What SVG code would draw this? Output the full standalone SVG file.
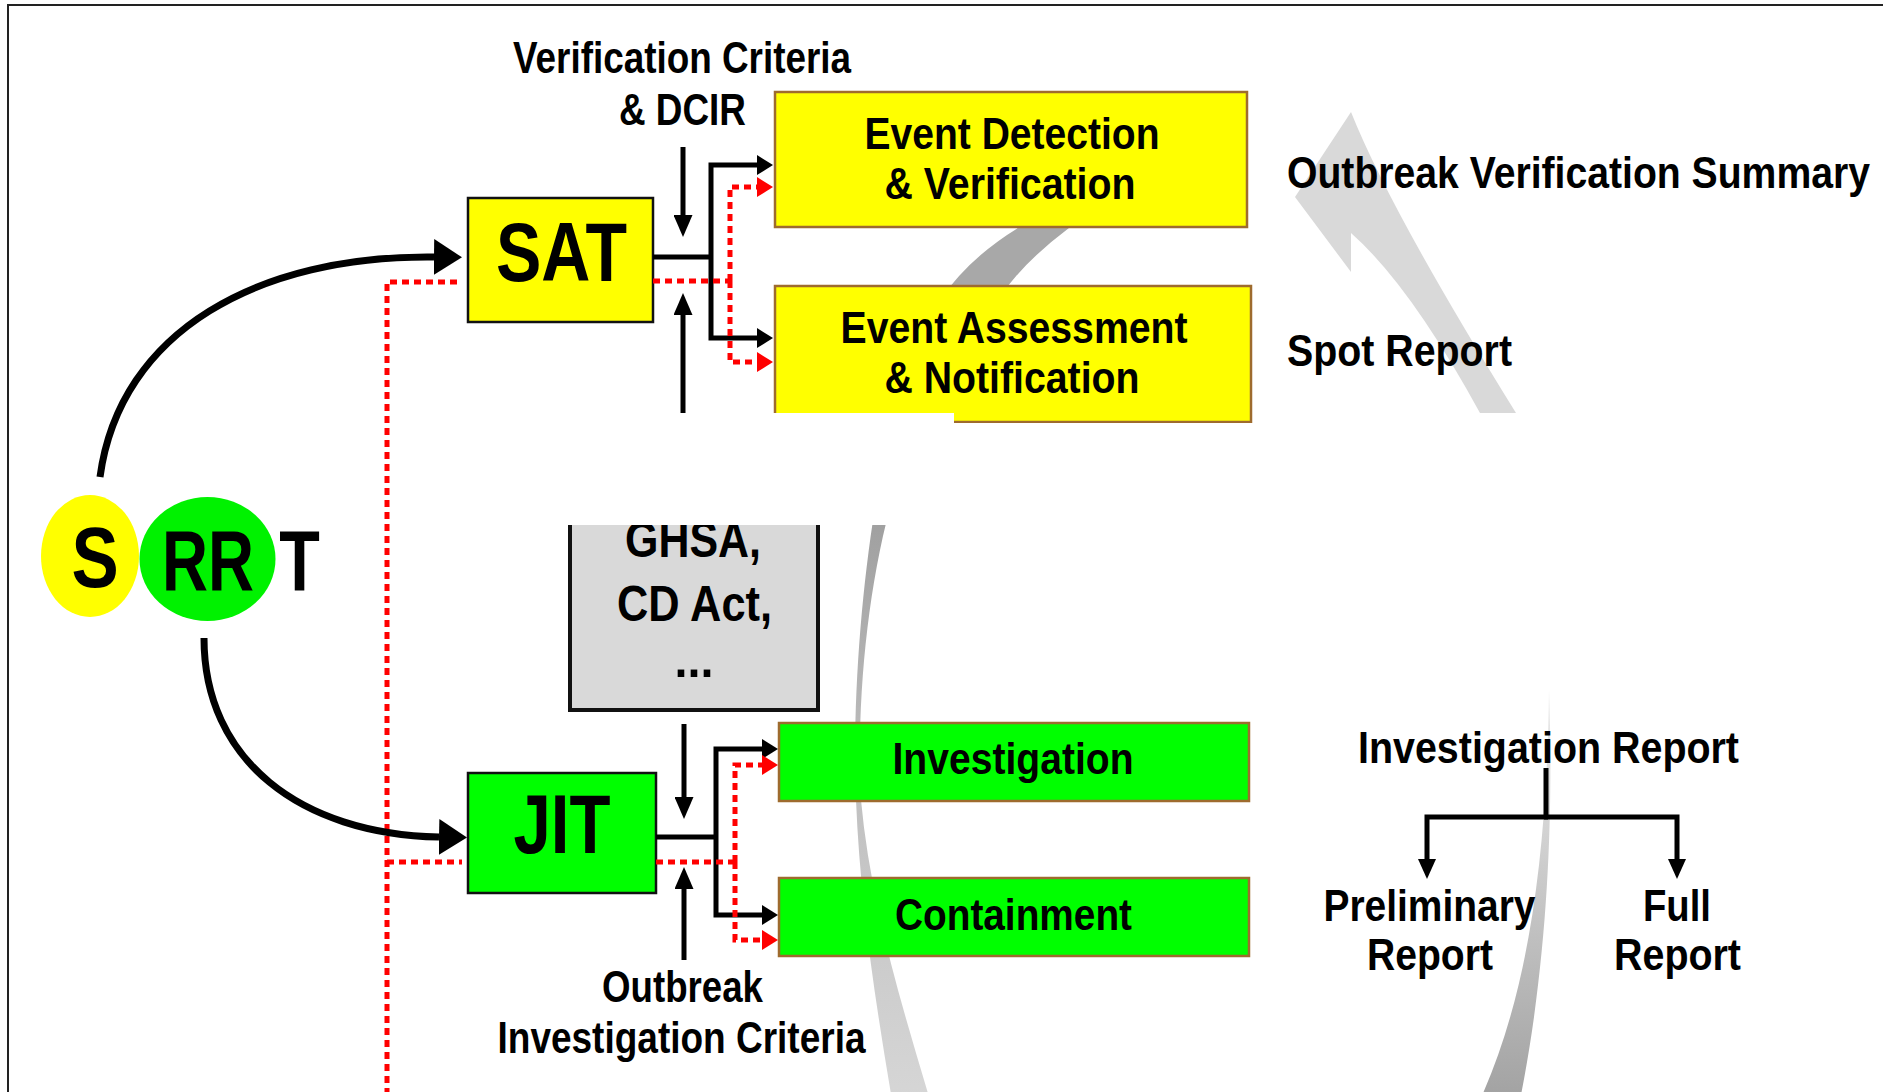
<svg xmlns="http://www.w3.org/2000/svg" width="1883" height="1092" viewBox="0 0 1883 1092">
<style>
.t{font-family:"Liberation Sans Narrow","Liberation Sans",Arial,sans-serif;font-weight:bold;fill:#000;text-anchor:middle}
.ts{text-anchor:start}
.yb{fill:#FFFF00;stroke:#9E6B2E;stroke-width:2.5}
.gb{fill:#00FF00;stroke:#9E6B2E;stroke-width:2.5}
.kb{stroke:#111;stroke-width:2.5}
.ln{fill:none;stroke:#000;stroke-width:5}
.rd{fill:none;stroke:#FF0000;stroke-width:5;stroke-dasharray:7 5}
.big{fill:none;stroke:#000;stroke-width:7}
</style>
<defs>
<marker id="ah" viewBox="0 0 16 20" refX="0" refY="10" markerWidth="16" markerHeight="20" markerUnits="userSpaceOnUse" orient="auto"><path d="M0,0 L16,10 L0,20 Z" fill="#000"/></marker>
<marker id="av" viewBox="0 0 22 19" refX="0" refY="9.5" markerWidth="22" markerHeight="19" markerUnits="userSpaceOnUse" orient="auto"><path d="M0,0 L22,9.5 L0,19 Z" fill="#000"/></marker>
<marker id="ar" viewBox="0 0 16 20" refX="0" refY="10" markerWidth="16" markerHeight="20" markerUnits="userSpaceOnUse" orient="auto"><path d="M0,0 L16,10 L0,20 Z" fill="#FF0000"/></marker>
<marker id="ab" viewBox="0 0 28 36" refX="0" refY="18" markerWidth="28" markerHeight="36" markerUnits="userSpaceOnUse" orient="auto"><path d="M0,0 L28,18 L0,36 Z" fill="#000"/></marker>
<marker id="at" viewBox="0 0 20 18" refX="0" refY="9" markerWidth="20" markerHeight="18" markerUnits="userSpaceOnUse" orient="auto"><path d="M0,0 L20,9 L0,18 Z" fill="#000"/></marker>
<linearGradient id="gL" x1="0" y1="490" x2="0" y2="1100" gradientUnits="userSpaceOnUse"><stop offset="0" stop-color="#9C9C9C"/><stop offset="0.45" stop-color="#BEBEBE"/><stop offset="1" stop-color="#D6D6D6"/></linearGradient>
<linearGradient id="gR" x1="0" y1="690" x2="0" y2="1100" gradientUnits="userSpaceOnUse"><stop offset="0" stop-color="#ECECEC"/><stop offset="1" stop-color="#A2A2A2"/></linearGradient>
</defs>
<rect x="0" y="0" width="1883" height="1092" fill="#FFFFFF"/>
<path id="frame" d="M8,1092 V5 H1883" fill="none" stroke="#222" stroke-width="2"/>

<g id="cycle">
<path d="M1351,112 L1295,197 L1351,272 L1351,233 Q1410,285 1480,413 L1516,413 Q1390,210 1351,112 Z" fill="#D9D9D9"/>
<path d="M1075,200 Q985,235 940,300 L998,300 Q1030,250 1110,200 Z" fill="#A8A8A8"/>
<path d="M878,490 C862,580 852,700 856,800 C860,900 875,1000 892,1100 L930,1100 C900,1000 870,900 861,800 C856,700 868,580 895,490 Z" fill="url(#gL)"/>
<path d="M1549,690 C1553,800 1550,950 1520,1100 L1480,1100 C1530,990 1547,850 1549,690 Z" fill="url(#gR)"/>
</g>

<g id="srrt">
<ellipse cx="90" cy="556" rx="49" ry="61" fill="#FFFF00"/>
<ellipse cx="207.5" cy="559" rx="68" ry="62" fill="#00F200"/>
<text class="t" transform="translate(95,587) scale(0.8,1)" x="0" y="0" font-size="86" textLength="59" lengthAdjust="spacingAndGlyphs">S</text>
<text class="t" transform="translate(208,590) scale(0.78,1)" x="0" y="0" font-size="86" textLength="118" lengthAdjust="spacingAndGlyphs">RR</text>
<text class="t" transform="translate(299.5,590) scale(0.78,1)" x="0" y="0" font-size="86" textLength="52" lengthAdjust="spacingAndGlyphs">T</text>
</g>

<g id="sat">
<rect x="468" y="198" width="185" height="124" fill="#FFFF00" class="kb"/>
<text class="t" x="561.5" y="281" font-size="83" textLength="131" lengthAdjust="spacingAndGlyphs">SAT</text>
</g>

<g id="jit">
<rect x="468" y="773" width="188" height="120" fill="#00FF00" class="kb"/>
<text class="t" x="562" y="853" font-size="83" textLength="97" lengthAdjust="spacingAndGlyphs">JIT</text>
</g>

<g id="event-detection">
<rect x="775" y="92" width="472" height="135" class="yb"/>
<text class="t" x="1012" y="149" font-size="45" textLength="295" lengthAdjust="spacingAndGlyphs">Event Detection</text>
<text class="t" x="1010" y="199" font-size="45" textLength="251" lengthAdjust="spacingAndGlyphs">&amp; Verification</text>
</g>

<g id="event-assessment">
<rect x="775" y="286" width="476" height="136" class="yb"/>
<text class="t" x="1014" y="343" font-size="45" textLength="347" lengthAdjust="spacingAndGlyphs">Event Assessment</text>
<text class="t" x="1012" y="393" font-size="45" textLength="255" lengthAdjust="spacingAndGlyphs">&amp; Notification</text>
</g>

<g id="investigation">
<rect x="779" y="723" width="470" height="78" class="gb"/>
<text class="t" x="1013" y="774" font-size="44" textLength="241" lengthAdjust="spacingAndGlyphs">Investigation</text>
</g>

<g id="containment">
<rect x="779" y="878" width="470" height="78" class="gb"/>
<text class="t" x="1013.5" y="930" font-size="44" textLength="237" lengthAdjust="spacingAndGlyphs">Containment</text>
</g>

<g id="ghsa">
<rect x="570" y="470" width="248" height="240" fill="#D9D9D9" stroke="#111" stroke-width="4"/>
<text class="t" x="693" y="557" font-size="50" textLength="136" lengthAdjust="spacingAndGlyphs">GHSA,</text>
<text class="t" x="694.5" y="621" font-size="50" textLength="155" lengthAdjust="spacingAndGlyphs">CD Act,</text>
<text class="t" x="694" y="677" font-size="50" textLength="39" lengthAdjust="spacingAndGlyphs">...</text>
</g>

<g id="labels">
<text class="t" x="682" y="73" font-size="44" textLength="338" lengthAdjust="spacingAndGlyphs">Verification Criteria</text>
<text class="t" x="682.5" y="125" font-size="44" textLength="127" lengthAdjust="spacingAndGlyphs">&amp; DCIR</text>
<text class="t ts" transform="translate(1287,188) scale(0.886,1)" x="0" y="0" font-size="44" textLength="658" lengthAdjust="spacingAndGlyphs">Outbreak Verification Summary</text>
<text class="t ts" x="1287" y="366" font-size="44" textLength="225" lengthAdjust="spacingAndGlyphs">Spot Report</text>
<text class="t" x="682.5" y="1002" font-size="44" textLength="161" lengthAdjust="spacingAndGlyphs">Outbreak</text>
<text class="t" x="681.5" y="1053" font-size="44" textLength="368" lengthAdjust="spacingAndGlyphs">Investigation Criteria</text>
<text class="t" x="1548.5" y="763" font-size="44" textLength="381" lengthAdjust="spacingAndGlyphs">Investigation Report</text>
<text class="t" x="1429.5" y="921" font-size="44" textLength="212" lengthAdjust="spacingAndGlyphs">Preliminary</text>
<text class="t" x="1430" y="970" font-size="44" textLength="126" lengthAdjust="spacingAndGlyphs">Report</text>
<text class="t" x="1677" y="921" font-size="44" textLength="68" lengthAdjust="spacingAndGlyphs">Full</text>
<text class="t" x="1677.5" y="970" font-size="44" textLength="127" lengthAdjust="spacingAndGlyphs">Report</text>
</g>

<g id="connectors">
<path class="ln" d="M653,257 H711"/>
<path class="ln" d="M711,257 V165 H757" marker-end="url(#ah)"/>
<path class="ln" d="M711,257 V338 H757" marker-end="url(#ah)"/>
<path class="rd" d="M653,281 H730"/>
<path class="rd" d="M730,281 V187 H757" marker-end="url(#ar)"/>
<path class="rd" d="M730,281 V362 H757" marker-end="url(#ar)"/>
<path class="ln" d="M683,147 V215" marker-end="url(#av)"/>
<path class="ln" d="M683,430 V315" marker-end="url(#av)"/>
<path class="ln" d="M656,837 H716"/>
<path class="ln" d="M716,837 V749 H762" marker-end="url(#ah)"/>
<path class="ln" d="M716,837 V915 H762" marker-end="url(#ah)"/>
<path class="rd" d="M656,862 H735"/>
<path class="rd" d="M735,862 V765 H762" marker-end="url(#ar)"/>
<path class="rd" d="M735,862 V940 H762" marker-end="url(#ar)"/>
<path class="ln" d="M684,724 V797" marker-end="url(#av)"/>
<path class="ln" d="M684,960 V889" marker-end="url(#av)"/>
<path class="ln" d="M1546,768 V817"/>
<path class="ln" d="M1548,817 H1427 V859" stroke-width="4.5" marker-end="url(#at)"/>
<path class="ln" d="M1544,817 H1677 V859" stroke-width="4.5" marker-end="url(#at)"/>
<path class="rd" d="M457,282 H387 V1095"/>
<path class="rd" d="M387,862 H462"/>
<path class="big" d="M100,477 C120,330 260,255 434,257" marker-end="url(#ab)"/>
<path class="big" d="M204,638 C204,760 300,834 439,837" marker-end="url(#ab)"/>
</g>

<path id="gap" d="M420,413 H954 V423 H1253 V413 H1883 V525 H420 Z" fill="#FFFFFF"/>
</svg>
